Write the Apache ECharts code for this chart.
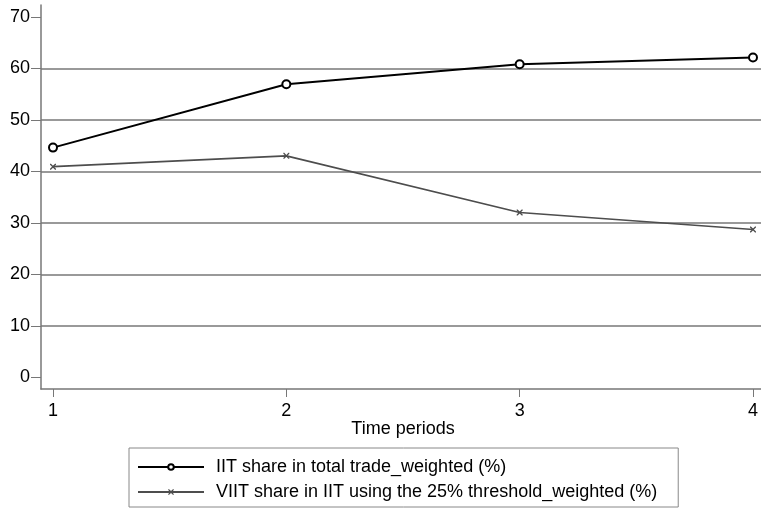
<!DOCTYPE html>
<html>
<head>
<meta charset="utf-8">
<script src="https://cdn.jsdelivr.net/npm/echarts@6/dist/echarts.min.js"></script>
<style>html,body{margin:0;padding:0;background:#fff}#c{width:761px;height:508px}</style>
</head>
<body>
<div id="c"></div>
<script>
const periods = [1, 2, 3, 4];
const iitShare = [44.6, 56.9, 60.8, 62.1];
const viitShare = [40.9, 43.0, 32.0, 28.7];
const seriesNames = ['IIT share in total trade_weighted (%)', 'VIIT share in IIT using the 25% threshold_weighted (%)'];
const xAxisTitle = 'Time periods';

const FONT = 'Liberation Sans, Arial, sans-serif';
const xMark = 'path://M0,0L1.6,0L5,3.4L8.4,0L10,0L10,1.6L6.6,5L10,8.4L10,10L8.4,10L5,6.6L1.6,10L0,10L0,8.4L3.4,5L0,1.6Z';

const chart = echarts.init(document.getElementById('c'), null, {renderer: 'canvas'});
chart.setOption({
  backgroundColor: '#fff',
  animation: false,
  grid: [
    {left: 41, right: 0, top: 16.8, height: 360.5},
    {left: 53, right: 6, top: 16.8, height: 372.2},
    {left: 41, right: 0, top: 5, height: 384}
  ],
  xAxis: [
    {gridIndex: 0, type: 'value', min: 0, max: 1, show: false},
    {gridIndex: 1, type: 'value', min: 1, max: 4, interval: 1,
     axisLine: {show: false, onZero: false},
     axisTick: {show: true, length: 8, lineStyle: {color: '#777', width: 1}},
     axisLabel: {color: '#000', fontSize: 18, fontFamily: FONT, margin: 13},
     splitLine: {show: false},
     name: xAxisTitle, nameLocation: 'middle', nameGap: 31, nameMoveOverlap: false,
     nameTextStyle: {color: '#000', fontSize: 18, fontFamily: FONT}},
    {gridIndex: 2, type: 'value', min: 0, max: 1,
     axisLine: {show: true, onZero: false, lineStyle: {color: '#777', width: 1.5}},
     axisTick: {show: false}, axisLabel: {show: false}, splitLine: {show: false}}
  ],
  yAxis: [
    {gridIndex: 0, type: 'value', min: 0, max: 70, interval: 10,
     axisLine: {show: false},
     axisTick: {show: true, length: 10, lineStyle: {color: '#777', width: 1}},
     axisLabel: {color: '#000', fontSize: 18, fontFamily: FONT, margin: 11},
     splitLine: {show: true, showMinLine: false, showMaxLine: false, lineStyle: {color: '#999', width: 2}}},
    {gridIndex: 1, type: 'value', min: -2.27, max: 70, show: false},
    {gridIndex: 2, type: 'value', min: 0, max: 1,
     axisLine: {show: true, onZero: false, lineStyle: {color: '#777', width: 1.5}},
     axisTick: {show: false}, axisLabel: {show: false}, splitLine: {show: false}}
  ],
  legend: {
    orient: 'vertical', left: 129, top: 448,
    padding: [10, 21, 6, 8],
    itemWidth: 66, itemHeight: 7, itemGap: 7,
    borderColor: '#888', borderWidth: 1,
    textStyle: {color: '#000', fontSize: 18, lineHeight: 18, fontFamily: FONT, padding: [0, 0, 0, 7]},
    data: seriesNames
  },
  series: [
    {name: seriesNames[0], type: 'line', xAxisIndex: 1, yAxisIndex: 1,
     data: periods.map((p, i) => [p, iitShare[i]]),
     symbol: 'emptyCircle', symbolSize: 8,
     lineStyle: {color: '#000', width: 2},
     itemStyle: {color: '#000', borderColor: '#000', borderWidth: 2},
     z: 5},
    {name: seriesNames[1], type: 'line', xAxisIndex: 1, yAxisIndex: 1,
     data: periods.map((p, i) => [p, viitShare[i]]),
     symbol: xMark, symbolSize: 6,
     lineStyle: {color: '#4d4d4d', width: 1.6},
     itemStyle: {color: '#4d4d4d'},
     z: 4}
  ]
});
</script>
</body>
</html>
